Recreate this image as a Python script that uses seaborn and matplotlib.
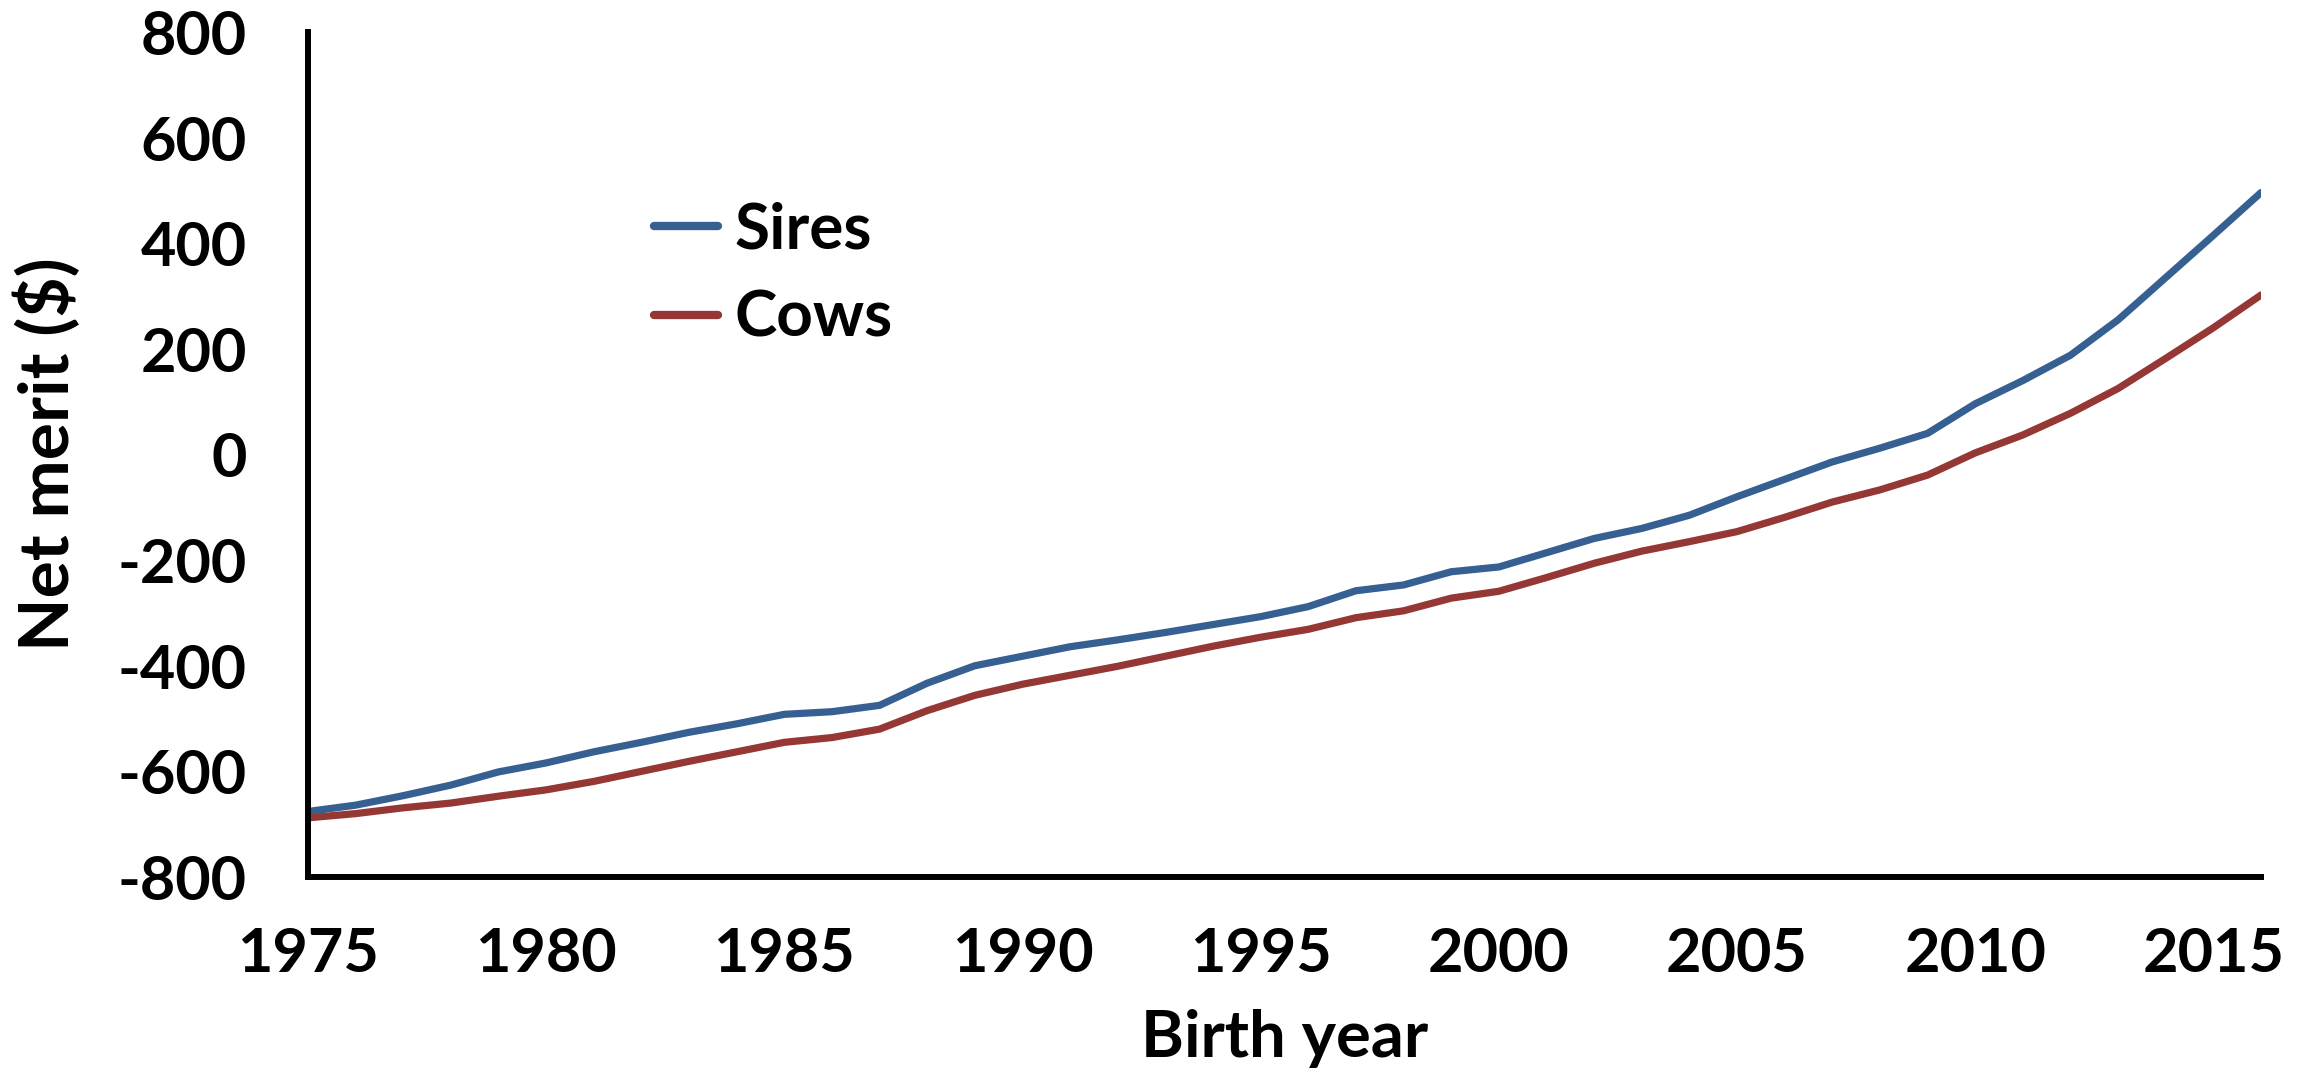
import pandas as pd
import seaborn as sns
import matplotlib.pyplot as plt

# Net merit by birth year
years = list(range(1975, 2017))
sires = [-676, -664, -646, -626, -601, -584, -563, -545, -526, -510, -492, -487, -475, -433, -400,
         -382, -364, -351, -337, -322, -307, -288, -258, -247, -222, -213, -186, -159, -140,
         -115, -80, -47, -14, 12, 40, 96, 140, 188, 255, 335, 415, 496]
cows = [-688, -680, -669, -660, -647, -635, -619, -600, -581, -563, -545, -536, -520, -485, -456,
        -435, -418, -401, -382, -363, -346, -331, -309, -296, -272, -259, -233, -206, -183,
        -165, -146, -119, -90, -67, -39, 3, 37, 78, 125, 182, 240, 302]
series_names = ["Sires", "Cows"]
colors = ["#376092", "#953735"]

y_ticks = list(range(-800, 801, 200))
x_ticks = list(range(1975, 2016, 5))

df = pd.DataFrame({"Birth year": years * 2,
                   "Net merit": sires + cows,
                   "Group": ["Sires"] * len(years) + ["Cows"] * len(years)})

sns.set_style("white")
plt.rcParams["font.family"] = ["Lato", "DejaVu Sans"]
plt.rcParams["font.weight"] = "bold"
plt.rcParams["text.color"] = "black"
plt.rcParams["axes.labelcolor"] = "black"
plt.rcParams["xtick.color"] = "black"
plt.rcParams["ytick.color"] = "black"

fig = plt.figure(figsize=(23.1, 10.77), dpi=100)
ax = fig.add_axes([0.1333, 0.1857, 0.8455, 0.7846])

sns.lineplot(data=df, x="Birth year", y="Net merit", hue="Group",
             hue_order=series_names, palette=colors, linewidth=5.2, ax=ax)

ax.set_xlim(1975, 2016)
ax.set_ylim(-800, 800)
ax.set_xticks(x_ticks)
ax.set_yticks(y_ticks)
ax.set_yticklabels([str(v) for v in y_ticks])

for side in ["top", "right"]:
    ax.spines[side].set_visible(False)
for side in ["left", "bottom"]:
    ax.spines[side].set_color("black")
    ax.spines[side].set_linewidth(4.3)

ax.tick_params(axis="y", direction="out", length=18, width=4.3, colors="black",
               labelsize=44, pad=26)
ax.tick_params(axis="x", direction="out", length=15, width=4.3, colors="black",
               labelsize=44, pad=20)
for lbl in ax.get_xticklabels() + ax.get_yticklabels():
    lbl.set_fontweight("bold")

ax.set_xlabel("Birth year", fontsize=47, fontweight="bold", labelpad=20)
ax.set_ylabel("Net merit ($)", fontsize=50, fontweight="bold", labelpad=26)

leg = ax.legend(loc="upper left", bbox_to_anchor=(0.148, 0.868), frameon=False,
                fontsize=46, handlelength=1.0, handletextpad=0.25, labelspacing=0.5)
for line in leg.get_lines():
    line.set_linewidth(6)
    line.set_solid_capstyle("round")
for txt in leg.get_texts():
    txt.set_fontweight("bold")
    txt.set_color("black")

plt.savefig("out.png", dpi=100)
